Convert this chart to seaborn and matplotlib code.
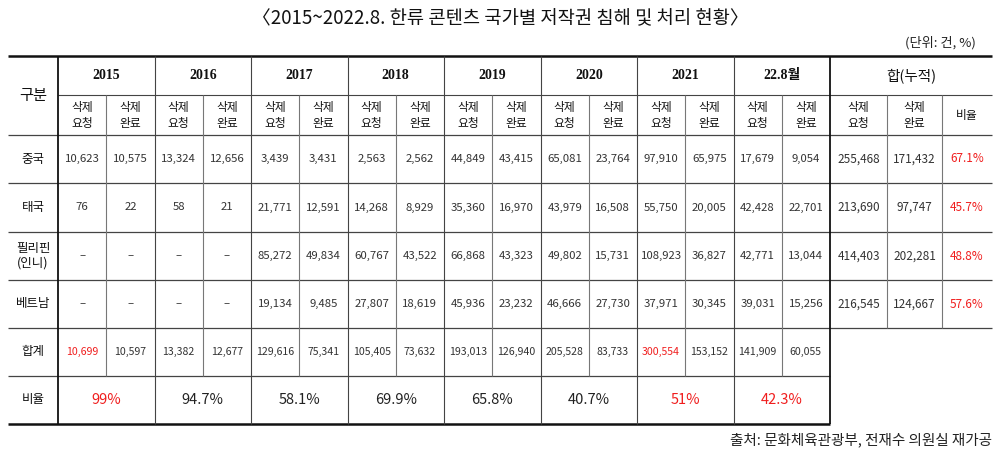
import matplotlib
matplotlib.use("Agg")
import matplotlib.pyplot as plt
import seaborn as sns

# ---------------- data ----------------
years = ["2015", "2016", "2017", "2018", "2019", "2020", "2021", "22.8월"]
countries = ["중국", "태국", "필리핀\n(인니)", "베트남"]

china_req = [10623, 13324, 3439, 2563, 44849, 65081, 97910, 17679]
china_done = [10575, 12656, 3431, 2562, 43415, 23764, 65975, 9054]
thai_req = [76, 58, 21771, 14268, 35360, 43979, 55750, 42428]
thai_done = [22, 21, 12591, 8929, 16970, 16508, 20005, 22701]
phil_req = [None, None, 85272, 60767, 66868, 49802, 108923, 42771]
phil_done = [None, None, 49834, 43522, 43323, 15731, 36827, 13044]
viet_req = [None, None, 19134, 27807, 45936, 46666, 37971, 39031]
viet_done = [None, None, 9485, 18619, 23232, 27730, 30345, 15256]

cum_req = [255468, 213690, 414403, 216545]
cum_done = [171432, 97747, 202281, 124667]
cum_ratio = [67.1, 45.7, 48.8, 57.6]

total_req = [10699, 13382, 129616, 105405, 193013, 205528, 300554, 141909]
total_done = [10597, 12677, 75341, 73632, 126940, 83733, 153152, 60055]
year_ratio = ["99%", "94.7%", "58.1%", "69.9%", "65.8%", "40.7%", "51%", "42.3%"]

red_total_idx = [0, 6]
red_ratio_idx = [0, 6, 7]

title = "〈2015~2022.8. 한류 콘텐츠 국가별 저작권 침해 및 처리 현황〉"
unit = "(단위: 건, %)"
source = "출처: 문화체육관광부, 전재수 의원실 재가공"

# ---------------- style ----------------
sns.set_theme(style="white")
plt.rcParams["font.family"] = ["Noto Sans CJK KR", "DejaVu Sans"]

RED = "#f01e1e"
TXT = "#333333"
LINE = "#444444"
VLINE = "#777777"

fig = plt.figure(figsize=(10, 4.53), dpi=100)
ax = fig.add_axes([0, 0, 1, 1])
ax.set_xlim(0, 1000)
ax.set_ylim(453, 0)
ax.axis("off")

# layout
left, c0, cmid = 8, 58, 830
sub_w = (cmid - c0) / 16.0
sub_edges = [c0 + i * sub_w for i in range(17)]
tot_edges = [830, 887, 942, 992]
rows = [56, 95, 135, 183, 232, 280, 328, 376, 424]

# ---- grid lines ----
ax.hlines(rows[0], left, tot_edges[-1], color="#111111", lw=1.8)
ax.hlines(rows[1], c0, tot_edges[-1], color=LINE, lw=0.8)
for y in rows[2:7]:
    ax.hlines(y, left, tot_edges[-1], color=LINE, lw=0.9)
ax.hlines(rows[7], left, cmid, color=LINE, lw=0.9)
ax.hlines(rows[8], left, cmid, color="#111111", lw=1.8)

ax.vlines(c0, rows[0], rows[8], color="#111111", lw=1.3)
ax.vlines(cmid, rows[0], rows[8], color="#111111", lw=1.3)
for i in range(2, 16, 2):
    ax.vlines(sub_edges[i], rows[0], rows[8], color=LINE, lw=0.8)
for i in range(1, 16, 2):
    ax.vlines(sub_edges[i], rows[1], rows[7], color=VLINE, lw=0.8)
for x in tot_edges[1:3]:
    ax.vlines(x, rows[1], rows[6], color=VLINE, lw=0.8)

# ---- titles ----
ax.text(500, 19, title, ha="center", va="center", fontsize=13.5, color="#111111")
ax.text(976, 43, unit, ha="right", va="center", fontsize=9.5, color="#222222")
ax.text(992, 440, source, ha="right", va="center", fontsize=10.5, color="#222222")

# ---- headers ----
ax.text((left + c0) / 2, (rows[0] + rows[2]) / 2, "구분", ha="center", va="center",
        fontsize=11, color="#111111")
for k, yr in enumerate(years):
    xc = (sub_edges[2 * k] + sub_edges[2 * k + 2]) / 2
    ax.text(xc, (rows[0] + rows[1]) / 2, yr, ha="center", va="center", fontsize=10,
            fontweight="bold", family=["Liberation Serif", "Noto Sans CJK KR"], color="#111111")
    for j, lab in enumerate(["삭제\n요청", "삭제\n완료"]):
        xs = (sub_edges[2 * k + j] + sub_edges[2 * k + j + 1]) / 2
        ax.text(xs, (rows[1] + rows[2]) / 2, lab, ha="center", va="center", fontsize=8.5,
                linespacing=1.3, color="#111111")
ax.text((tot_edges[0] + tot_edges[-1]) / 2, (rows[0] + rows[1]) / 2, "합(누적)",
        ha="center", va="center", fontsize=10.5, color="#111111")
for j, lab in enumerate(["삭제\n요청", "삭제\n완료", "비율"]):
    xs = (tot_edges[j] + tot_edges[j + 1]) / 2
    ax.text(xs, (rows[1] + rows[2]) / 2, lab, ha="center", va="center", fontsize=8.5,
            linespacing=1.3, color="#111111")

# ---- body ----
def fmt(v):
    return "–" if v is None else f"{v:,}"

body = [(china_req, china_done), (thai_req, thai_done),
        (phil_req, phil_done), (viet_req, viet_done)]
for r, (name, (rq, dn)) in enumerate(zip(countries, body)):
    yc = (rows[2 + r] + rows[3 + r]) / 2
    ax.text((left + c0) / 2, yc, name, ha="center", va="center", fontsize=9,
            linespacing=1.15, color="#111111")
    for k in range(len(years)):
        for j, val in enumerate([rq[k], dn[k]]):
            xs = (sub_edges[2 * k + j] + sub_edges[2 * k + j + 1]) / 2
            ax.text(xs, yc, fmt(val), ha="center", va="center", fontsize=8.2, color=TXT)
    for j, val in enumerate([fmt(cum_req[r]), fmt(cum_done[r]), f"{cum_ratio[r]}%"]):
        xs = (tot_edges[j] + tot_edges[j + 1]) / 2
        ax.text(xs, yc, val, ha="center", va="center", fontsize=8.5,
                color=RED if j == 2 else TXT)

# totals row
yc = (rows[6] + rows[7]) / 2
ax.text((left + c0) / 2, yc, "합계", ha="center", va="center", fontsize=9, color="#111111")
for k in range(len(years)):
    for j, val in enumerate([total_req[k], total_done[k]]):
        xs = (sub_edges[2 * k + j] + sub_edges[2 * k + j + 1]) / 2
        col = RED if (j == 0 and k in red_total_idx) else TXT
        ax.text(xs, yc, fmt(val), ha="center", va="center", fontsize=7.6, color=col)

# ratio row
yc = (rows[7] + rows[8]) / 2
ax.text((left + c0) / 2, yc, "비율", ha="center", va="center", fontsize=9, color="#111111")
for k, val in enumerate(year_ratio):
    xc = (sub_edges[2 * k] + sub_edges[2 * k + 2]) / 2
    ax.text(xc, yc, val, ha="center", va="center", fontsize=10.5,
            color=RED if k in red_ratio_idx else "#222222")

fig.savefig("out.png", dpi=100, facecolor="white")
